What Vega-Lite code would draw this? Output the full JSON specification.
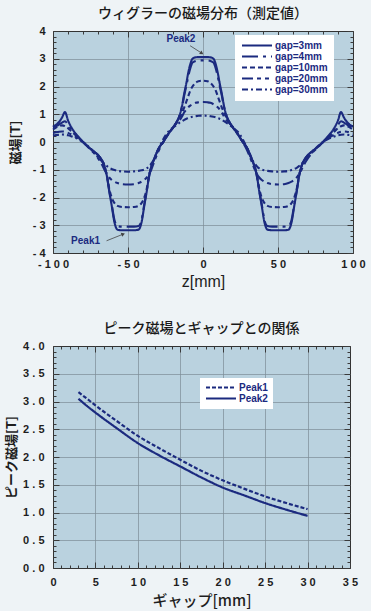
{
  "$schema": "https://vega.github.io/schema/vega-lite/v6.json",
  "background": "#eef3f6",
  "padding": {"left": 5, "top": 6, "right": 5, "bottom": 2},
  "bounds": "flush",
  "spacing": 93,
  "resolve": {"scale": {"strokeDash": "independent"}, "legend": {"strokeDash": "independent"}},
  "config": {
    "view": {"fill": "#bad2df", "stroke": "#333333", "strokeWidth": 1},
    "axis": {
      "domain": false, "labelFont": "Liberation Sans", "labelFontWeight": "bold", "labelFontSize": 11,
      "labelColor": "#1e1e1e", "labelOverlap": false, "labelFlush": false, "tickColor": "#3a3a3a", "tickWidth": 1,
      "gridColor": "#7d8d97", "gridWidth": 0.7, "titleColor": "#1e1e1e"
    },
    "legend": {
      "title": null, "orient": "none", "fillColor": "white", "symbolType": "stroke", "symbolSize": 900,
      "symbolStrokeWidth": 2, "symbolStrokeColor": "#1b2a7f", "labelFont": "Liberation Sans", "labelFontWeight": "bold",
      "labelFontSize": 10, "labelColor": "#1b2a7f", "rowPadding": 0, "clipHeight": 9, "labelOffset": 2, "padding": 6
    }
  },
  "datasets": {
    "wig": [
      {"z": -100, "g3": 0.55, "g4": 0.52, "g10": 0.45, "g20": 0.33, "g30": 0.23},
      {"z": -98, "g3": 0.62, "g4": 0.57, "g10": 0.52, "g20": 0.35, "g30": 0.25},
      {"z": -96, "g3": 0.72, "g4": 0.63, "g10": 0.57, "g20": 0.37, "g30": 0.26},
      {"z": -94, "g3": 0.88, "g4": 0.70, "g10": 0.60, "g20": 0.38, "g30": 0.27},
      {"z": -92, "g3": 1.08, "g4": 0.75, "g10": 0.57, "g20": 0.37, "g30": 0.26},
      {"z": -90, "g3": 0.78, "g4": 0.62, "g10": 0.50, "g20": 0.33, "g30": 0.24},
      {"z": -88, "g3": 0.55, "g4": 0.48, "g10": 0.40, "g20": 0.28, "g30": 0.21},
      {"z": -86, "g3": 0.38, "g4": 0.35, "g10": 0.30, "g20": 0.22, "g30": 0.17},
      {"z": -83, "g3": 0.18, "g4": 0.17, "g10": 0.15, "g20": 0.12, "g30": 0.10},
      {"z": -80, "g3": 0.0, "g4": 0.0, "g10": 0.0, "g20": 0.0, "g30": 0.0},
      {"z": -76, "g3": -0.20, "g4": -0.20, "g10": -0.20, "g20": -0.22, "g30": -0.18},
      {"z": -73, "g3": -0.33, "g4": -0.33, "g10": -0.33, "g20": -0.38, "g30": -0.36},
      {"z": -70, "g3": -0.47, "g4": -0.47, "g10": -0.47, "g20": -0.58, "g30": -0.54},
      {"z": -67, "g3": -0.70, "g4": -0.70, "g10": -0.70, "g20": -0.85, "g30": -0.72},
      {"z": -65.5, "g3": -0.90, "g4": -0.90, "g10": -0.90, "g20": -1.02, "g30": -0.80},
      {"z": -64, "g3": -1.25, "g4": -1.25, "g10": -1.22, "g20": -1.16, "g30": -0.87},
      {"z": -62.5, "g3": -1.78, "g4": -1.75, "g10": -1.68, "g20": -1.28, "g30": -0.93},
      {"z": -61, "g3": -2.25, "g4": -2.20, "g10": -1.98, "g20": -1.36, "g30": -0.97},
      {"z": -59, "g3": -2.90, "g4": -2.82, "g10": -2.20, "g20": -1.43, "g30": -1.01},
      {"z": -57, "g3": -3.16, "g4": -3.03, "g10": -2.30, "g20": -1.48, "g30": -1.04},
      {"z": -54, "g3": -3.18, "g4": -3.05, "g10": -2.34, "g20": -1.52, "g30": -1.06},
      {"z": -50, "g3": -3.18, "g4": -3.05, "g10": -2.35, "g20": -1.53, "g30": -1.07},
      {"z": -46, "g3": -3.18, "g4": -3.05, "g10": -2.34, "g20": -1.52, "g30": -1.06},
      {"z": -43, "g3": -3.16, "g4": -3.03, "g10": -2.30, "g20": -1.48, "g30": -1.04},
      {"z": -41, "g3": -2.90, "g4": -2.82, "g10": -2.20, "g20": -1.43, "g30": -1.02},
      {"z": -39, "g3": -2.25, "g4": -2.20, "g10": -1.98, "g20": -1.36, "g30": -0.99},
      {"z": -37.5, "g3": -1.78, "g4": -1.75, "g10": -1.68, "g20": -1.28, "g30": -0.95},
      {"z": -36, "g3": -1.25, "g4": -1.25, "g10": -1.22, "g20": -1.16, "g30": -0.88},
      {"z": -34.5, "g3": -0.90, "g4": -0.90, "g10": -0.90, "g20": -1.00, "g30": -0.78},
      {"z": -33, "g3": -0.68, "g4": -0.68, "g10": -0.68, "g20": -0.78, "g30": -0.66},
      {"z": -31, "g3": -0.40, "g4": -0.40, "g10": -0.40, "g20": -0.50, "g30": -0.45},
      {"z": -29, "g3": -0.18, "g4": -0.18, "g10": -0.18, "g20": -0.25, "g30": -0.18},
      {"z": -26.5, "g3": 0.0, "g4": 0.0, "g10": 0.0, "g20": 0.0, "g30": 0.10},
      {"z": -23, "g3": 0.30, "g4": 0.30, "g10": 0.30, "g20": 0.30, "g30": 0.38},
      {"z": -20, "g3": 0.52, "g4": 0.52, "g10": 0.52, "g20": 0.52, "g30": 0.52},
      {"z": -18, "g3": 0.68, "g4": 0.68, "g10": 0.68, "g20": 0.66, "g30": 0.60},
      {"z": -16, "g3": 0.90, "g4": 0.90, "g10": 0.85, "g20": 0.76, "g30": 0.68},
      {"z": -14, "g3": 1.30, "g4": 1.26, "g10": 1.05, "g20": 0.92, "g30": 0.75},
      {"z": -12.5, "g3": 1.75, "g4": 1.68, "g10": 1.25, "g20": 1.07, "g30": 0.80},
      {"z": -11, "g3": 2.15, "g4": 2.05, "g10": 1.47, "g20": 1.18, "g30": 0.84},
      {"z": -10, "g3": 2.45, "g4": 2.32, "g10": 1.62, "g20": 1.24, "g30": 0.86},
      {"z": -8.5, "g3": 2.80, "g4": 2.65, "g10": 1.85, "g20": 1.31, "g30": 0.89},
      {"z": -7, "g3": 3.00, "g4": 2.86, "g10": 2.00, "g20": 1.36, "g30": 0.91},
      {"z": -5, "g3": 3.05, "g4": 2.92, "g10": 2.13, "g20": 1.41, "g30": 0.93},
      {"z": -3, "g3": 3.06, "g4": 2.94, "g10": 2.19, "g20": 1.43, "g30": 0.945},
      {"z": 0, "g3": 3.06, "g4": 2.94, "g10": 2.21, "g20": 1.44, "g30": 0.95},
      {"z": 3, "g3": 3.06, "g4": 2.94, "g10": 2.19, "g20": 1.43, "g30": 0.945},
      {"z": 5, "g3": 3.05, "g4": 2.92, "g10": 2.13, "g20": 1.41, "g30": 0.93},
      {"z": 7, "g3": 3.00, "g4": 2.86, "g10": 2.00, "g20": 1.36, "g30": 0.91},
      {"z": 8.5, "g3": 2.80, "g4": 2.65, "g10": 1.85, "g20": 1.31, "g30": 0.89},
      {"z": 10, "g3": 2.45, "g4": 2.32, "g10": 1.62, "g20": 1.24, "g30": 0.86},
      {"z": 11, "g3": 2.15, "g4": 2.05, "g10": 1.47, "g20": 1.18, "g30": 0.84},
      {"z": 12.5, "g3": 1.75, "g4": 1.68, "g10": 1.25, "g20": 1.07, "g30": 0.80},
      {"z": 14, "g3": 1.30, "g4": 1.26, "g10": 1.05, "g20": 0.92, "g30": 0.75},
      {"z": 16, "g3": 0.90, "g4": 0.90, "g10": 0.85, "g20": 0.76, "g30": 0.68},
      {"z": 18, "g3": 0.68, "g4": 0.68, "g10": 0.68, "g20": 0.66, "g30": 0.60},
      {"z": 20, "g3": 0.52, "g4": 0.52, "g10": 0.52, "g20": 0.52, "g30": 0.52},
      {"z": 23, "g3": 0.30, "g4": 0.30, "g10": 0.30, "g20": 0.30, "g30": 0.38},
      {"z": 26.5, "g3": 0.0, "g4": 0.0, "g10": 0.0, "g20": 0.0, "g30": 0.10},
      {"z": 29, "g3": -0.18, "g4": -0.18, "g10": -0.18, "g20": -0.25, "g30": -0.18},
      {"z": 31, "g3": -0.40, "g4": -0.40, "g10": -0.40, "g20": -0.50, "g30": -0.45},
      {"z": 33, "g3": -0.68, "g4": -0.68, "g10": -0.68, "g20": -0.78, "g30": -0.66},
      {"z": 34.5, "g3": -0.90, "g4": -0.90, "g10": -0.90, "g20": -1.00, "g30": -0.78},
      {"z": 36, "g3": -1.25, "g4": -1.25, "g10": -1.22, "g20": -1.16, "g30": -0.88},
      {"z": 37.5, "g3": -1.78, "g4": -1.75, "g10": -1.68, "g20": -1.28, "g30": -0.95},
      {"z": 39, "g3": -2.25, "g4": -2.20, "g10": -1.98, "g20": -1.36, "g30": -0.99},
      {"z": 41, "g3": -2.90, "g4": -2.82, "g10": -2.20, "g20": -1.43, "g30": -1.02},
      {"z": 43, "g3": -3.16, "g4": -3.03, "g10": -2.30, "g20": -1.48, "g30": -1.04},
      {"z": 46, "g3": -3.18, "g4": -3.05, "g10": -2.34, "g20": -1.52, "g30": -1.06},
      {"z": 50, "g3": -3.18, "g4": -3.05, "g10": -2.35, "g20": -1.53, "g30": -1.07},
      {"z": 54, "g3": -3.18, "g4": -3.05, "g10": -2.34, "g20": -1.52, "g30": -1.06},
      {"z": 57, "g3": -3.16, "g4": -3.03, "g10": -2.30, "g20": -1.48, "g30": -1.04},
      {"z": 59, "g3": -2.90, "g4": -2.82, "g10": -2.20, "g20": -1.43, "g30": -1.01},
      {"z": 61, "g3": -2.25, "g4": -2.20, "g10": -1.98, "g20": -1.36, "g30": -0.97},
      {"z": 62.5, "g3": -1.78, "g4": -1.75, "g10": -1.68, "g20": -1.28, "g30": -0.93},
      {"z": 64, "g3": -1.25, "g4": -1.25, "g10": -1.22, "g20": -1.16, "g30": -0.87},
      {"z": 65.5, "g3": -0.90, "g4": -0.90, "g10": -0.90, "g20": -1.02, "g30": -0.80},
      {"z": 67, "g3": -0.70, "g4": -0.70, "g10": -0.70, "g20": -0.85, "g30": -0.72},
      {"z": 70, "g3": -0.47, "g4": -0.47, "g10": -0.47, "g20": -0.58, "g30": -0.54},
      {"z": 73, "g3": -0.33, "g4": -0.33, "g10": -0.33, "g20": -0.38, "g30": -0.36},
      {"z": 76, "g3": -0.20, "g4": -0.20, "g10": -0.20, "g20": -0.22, "g30": -0.18},
      {"z": 80, "g3": 0.0, "g4": 0.0, "g10": 0.0, "g20": 0.0, "g30": 0.0},
      {"z": 83, "g3": 0.18, "g4": 0.17, "g10": 0.15, "g20": 0.12, "g30": 0.10},
      {"z": 86, "g3": 0.38, "g4": 0.35, "g10": 0.30, "g20": 0.22, "g30": 0.17},
      {"z": 88, "g3": 0.55, "g4": 0.48, "g10": 0.40, "g20": 0.28, "g30": 0.21},
      {"z": 90, "g3": 0.78, "g4": 0.62, "g10": 0.50, "g20": 0.33, "g30": 0.24},
      {"z": 92, "g3": 1.08, "g4": 0.75, "g10": 0.57, "g20": 0.37, "g30": 0.26},
      {"z": 94, "g3": 0.88, "g4": 0.70, "g10": 0.60, "g20": 0.38, "g30": 0.27},
      {"z": 96, "g3": 0.72, "g4": 0.63, "g10": 0.57, "g20": 0.37, "g30": 0.26},
      {"z": 98, "g3": 0.62, "g4": 0.57, "g10": 0.52, "g20": 0.35, "g30": 0.25},
      {"z": 100, "g3": 0.55, "g4": 0.52, "g10": 0.45, "g20": 0.33, "g30": 0.23}
    ],
    "peaks": [
      {"gap": 3, "Peak1": 3.17, "Peak2": 3.05},
      {"gap": 4, "Peak1": 3.05, "Peak2": 2.92},
      {"gap": 5, "Peak1": 2.93, "Peak2": 2.80},
      {"gap": 7.5, "Peak1": 2.65, "Peak2": 2.52},
      {"gap": 10, "Peak1": 2.38, "Peak2": 2.25},
      {"gap": 12.5, "Peak1": 2.16, "Peak2": 2.03},
      {"gap": 15, "Peak1": 1.95, "Peak2": 1.83},
      {"gap": 17.5, "Peak1": 1.75, "Peak2": 1.63},
      {"gap": 20, "Peak1": 1.58, "Peak2": 1.45},
      {"gap": 22.5, "Peak1": 1.43, "Peak2": 1.31},
      {"gap": 25, "Peak1": 1.29, "Peak2": 1.17},
      {"gap": 27.5, "Peak1": 1.17, "Peak2": 1.05},
      {"gap": 30, "Peak1": 1.06, "Peak2": 0.94}
    ]
  },
  "vconcat": [
    {
      "width": 300,
      "height": 222,
      "title": {"text": "ウィグラーの磁場分布（測定値）", "font": "Noto Sans CJK JP", "fontSize": 14, "fontWeight": 500, "color": "#1a1a1a", "offset": 4, "frame": "group"},
      "layer": [
        {
          "data": {"name": "wig"},
          "transform": [{"fold": ["g3", "g4", "g10", "g20", "g30"], "as": ["gap", "B"]}],
          "mark": {"type": "line", "color": "#1b2a7f", "strokeWidth": 2.1, "interpolate": "monotone"},
          "encoding": {
            "x": {
              "field": "z", "type": "quantitative", "scale": {"domain": [-100, 100], "nice": false},
              "axis": {
                "orient": "bottom",
                "values": [-100, -90, -80, -70, -60, -50, -40, -30, -20, -10, 0, 10, 20, 30, 40, 50, 60, 70, 80, 90, 100],
                "labelExpr": "datum.value % 50 === 0 ? (datum.value < 0 ? '- ' : '') + join(split('' + abs(datum.value), ''), ' ') : ''",
                "tickSize": {"condition": {"test": "datum.value % 50 === 0", "value": -6}, "value": -3},
                "grid": true,
                "gridOpacity": {"condition": {"test": "datum.value % 50 === 0 && abs(datum.value) < 100", "value": 1}, "value": 0},
                "labelPadding": 11,
                "title": "z[mm]", "titleFont": "Liberation Sans", "titleFontWeight": "normal", "titleFontSize": 16, "titlePadding": 1
              }
            },
            "y": {
              "field": "B", "type": "quantitative", "scale": {"domain": [-4, 4], "nice": false},
              "axis": {
                "orient": "left",
                "values": [-4, -3.8, -3.6, -3.4, -3.2, -3, -2.8, -2.6, -2.4, -2.2, -2, -1.8, -1.6, -1.4, -1.2, -1, -0.8, -0.6, -0.4, -0.2, 0, 0.2, 0.4, 0.6, 0.8, 1, 1.2, 1.4, 1.6, 1.8, 2, 2.2, 2.4, 2.6, 2.8, 3, 3.2, 3.4, 3.6, 3.8, 4],
                "labelExpr": "abs(datum.value - round(datum.value)) < 0.001 ? (datum.value < -0.001 ? '- ' + abs(round(datum.value)) : '' + round(datum.value)) : ''",
                "tickSize": {"condition": {"test": "abs(datum.value - round(datum.value)) < 0.001", "value": -6}, "value": -3},
                "grid": true,
                "gridOpacity": {"condition": {"test": "abs(datum.value - round(datum.value)) < 0.001 && abs(datum.value) < 3.99", "value": 1}, "value": 0},
                "labelPadding": 14,
                "title": "磁場[T]", "titleFont": "Noto Sans CJK JP", "titleFontWeight": "bold", "titleFontSize": 13, "titlePadding": 10
              }
            },
            "strokeDash": {
              "field": "gap", "type": "nominal",
              "scale": {"domain": ["g3", "g4", "g10", "g20", "g30"], "range": [[1, 0], [16, 5, 3, 5], [5, 3], [11, 4, 4, 4, 4, 4], [6, 3, 2, 3]]},
              "legend": {"legendX": 182, "legendY": 4, "labelExpr": "'gap=' + slice(datum.label, 1) + 'mm'"}
            }
          }
        },
        {
          "data": {"name": "wig"},
          "mark": {"type": "point", "opacity": 0},
          "encoding": {
            "x": {
              "field": "z", "type": "quantitative",
              "axis": {
                "orient": "top", "labels": false, "grid": false, "title": null,
                "values": [-100, -90, -80, -70, -60, -50, -40, -30, -20, -10, 0, 10, 20, 30, 40, 50, 60, 70, 80, 90, 100],
                "tickSize": {"condition": {"test": "datum.value % 50 === 0", "value": -6}, "value": -3}
              }
            },
            "y": {
              "field": "g3", "type": "quantitative",
              "axis": {
                "orient": "right", "labels": false, "grid": false, "title": null,
                "values": [-4, -3.8, -3.6, -3.4, -3.2, -3, -2.8, -2.6, -2.4, -2.2, -2, -1.8, -1.6, -1.4, -1.2, -1, -0.8, -0.6, -0.4, -0.2, 0, 0.2, 0.4, 0.6, 0.8, 1, 1.2, 1.4, 1.6, 1.8, 2, 2.2, 2.4, 2.6, 2.8, 3, 3.2, 3.4, 3.6, 3.8, 4],
                "tickSize": {"condition": {"test": "abs(datum.value - round(datum.value)) < 0.001", "value": -6}, "value": -3}
              }
            }
          }
        },
        {
          "data": {"values": [{"z": -14.7, "B": 3.71, "t": "Peak2"}, {"z": -78.3, "B": -3.57, "t": "Peak1"}]},
          "mark": {"type": "text", "font": "Liberation Sans", "fontWeight": "bold", "fontSize": 10, "color": "#1b2a7f"},
          "encoding": {
            "x": {"field": "z", "type": "quantitative", "axis": null},
            "y": {"field": "B", "type": "quantitative", "axis": null},
            "text": {"field": "t"}
          }
        },
        {
          "data": {"values": [{"z": -8.6, "B": 3.47, "z2": -0.8, "B2": 3.2}, {"z": -64.3, "B": -3.56, "z2": -53.2, "B2": -3.32}]},
          "mark": {"type": "rule", "color": "#444444", "strokeWidth": 0.8},
          "encoding": {
            "x": {"field": "z", "type": "quantitative", "axis": null},
            "y": {"field": "B", "type": "quantitative", "axis": null},
            "x2": {"field": "z2"},
            "y2": {"field": "B2"}
          }
        },
        {
          "data": {"values": [{"z": -0.8, "B": 3.2}]},
          "mark": {"type": "point", "shape": "triangle-right", "filled": true, "size": 18, "angle": 33, "color": "#444444", "opacity": 1},
          "encoding": {
            "x": {"field": "z", "type": "quantitative", "axis": null},
            "y": {"field": "B", "type": "quantitative", "axis": null}
          }
        },
        {
          "data": {"values": [{"z": -53.2, "B": -3.32}]},
          "mark": {"type": "point", "shape": "triangle-right", "filled": true, "size": 18, "angle": -22, "color": "#444444", "opacity": 1},
          "encoding": {
            "x": {"field": "z", "type": "quantitative", "axis": null},
            "y": {"field": "B", "type": "quantitative", "axis": null}
          }
        }
      ],
      "resolve": {"axis": {"x": "independent", "y": "independent"}}
    },
    {
      "width": 297,
      "height": 222,
      "title": {"text": "ピーク磁場とギャップとの関係", "font": "Noto Sans CJK JP", "fontSize": 14, "fontWeight": 500, "color": "#1a1a1a", "offset": 4, "frame": "group"},
      "layer": [
        {
          "data": {"name": "peaks"},
          "transform": [{"fold": ["Peak1", "Peak2"], "as": ["peak", "B"]}],
          "mark": {"type": "line", "color": "#1b2a7f", "strokeWidth": 2.2, "interpolate": "monotone"},
          "encoding": {
            "x": {
              "field": "gap", "type": "quantitative", "scale": {"domain": [0, 35], "nice": false},
              "axis": {
                "orient": "bottom",
                "values": [0, 1, 2, 3, 4, 5, 6, 7, 8, 9, 10, 11, 12, 13, 14, 15, 16, 17, 18, 19, 20, 21, 22, 23, 24, 25, 26, 27, 28, 29, 30, 31, 32, 33, 34, 35],
                "labelExpr": "datum.value % 5 === 0 ? join(split('' + datum.value, ''), ' ') : ''",
                "tickSize": {"condition": {"test": "datum.value % 5 === 0", "value": -6}, "value": -3},
                "grid": true,
                "gridOpacity": {"condition": {"test": "datum.value % 5 === 0 && datum.value > 0 && datum.value < 35", "value": 1}, "value": 0},
                "labelPadding": 14,
                "title": "ギャップ[mm]", "titleFont": "Noto Sans CJK JP", "titleFontWeight": 500, "titleFontSize": 15, "titlePadding": 3
              }
            },
            "y": {
              "field": "B", "type": "quantitative", "scale": {"domain": [0, 4], "nice": false},
              "axis": {
                "orient": "left",
                "values": [0, 0.1, 0.2, 0.3, 0.4, 0.5, 0.6, 0.7, 0.8, 0.9, 1, 1.1, 1.2, 1.3, 1.4, 1.5, 1.6, 1.7, 1.8, 1.9, 2, 2.1, 2.2, 2.3, 2.4, 2.5, 2.6, 2.7, 2.8, 2.9, 3, 3.1, 3.2, 3.3, 3.4, 3.5, 3.6, 3.7, 3.8, 3.9, 4],
                "labelExpr": "abs(datum.value * 2 - round(datum.value * 2)) < 0.001 ? join(split(format(datum.value, '.1f'), ''), ' ') : ''",
                "tickSize": {"condition": {"test": "abs(datum.value * 2 - round(datum.value * 2)) < 0.001", "value": -6}, "value": -3},
                "grid": true,
                "gridOpacity": {"condition": {"test": "abs(datum.value * 2 - round(datum.value * 2)) < 0.001 && datum.value > 0.01 && datum.value < 3.99", "value": 1}, "value": 0},
                "labelPadding": 15,
                "title": "ピーク磁場[T]", "titleFont": "Noto Sans CJK JP", "titleFontWeight": "bold", "titleFontSize": 13, "titlePadding": 4
              }
            },
            "strokeDash": {
              "field": "peak", "type": "nominal",
              "scale": {"domain": ["Peak1", "Peak2"], "range": [[4, 2], [1, 0]]},
              "legend": {"legendX": 147, "legendY": 32, "padding": 5}
            }
          }
        },
        {
          "data": {"name": "peaks"},
          "mark": {"type": "point", "opacity": 0},
          "encoding": {
            "x": {
              "field": "gap", "type": "quantitative",
              "axis": {
                "orient": "top", "labels": false, "grid": false, "title": null,
                "values": [0, 1, 2, 3, 4, 5, 6, 7, 8, 9, 10, 11, 12, 13, 14, 15, 16, 17, 18, 19, 20, 21, 22, 23, 24, 25, 26, 27, 28, 29, 30, 31, 32, 33, 34, 35],
                "tickSize": {"condition": {"test": "datum.value % 5 === 0", "value": -6}, "value": -3}
              }
            },
            "y": {
              "field": "Peak2", "type": "quantitative",
              "axis": {
                "orient": "right", "labels": false, "grid": false, "title": null,
                "values": [0, 0.1, 0.2, 0.3, 0.4, 0.5, 0.6, 0.7, 0.8, 0.9, 1, 1.1, 1.2, 1.3, 1.4, 1.5, 1.6, 1.7, 1.8, 1.9, 2, 2.1, 2.2, 2.3, 2.4, 2.5, 2.6, 2.7, 2.8, 2.9, 3, 3.1, 3.2, 3.3, 3.4, 3.5, 3.6, 3.7, 3.8, 3.9, 4],
                "tickSize": {"condition": {"test": "abs(datum.value * 2 - round(datum.value * 2)) < 0.001", "value": -6}, "value": -3}
              }
            }
          }
        }
      ],
      "resolve": {"axis": {"x": "independent", "y": "independent"}}
    }
  ]
}
